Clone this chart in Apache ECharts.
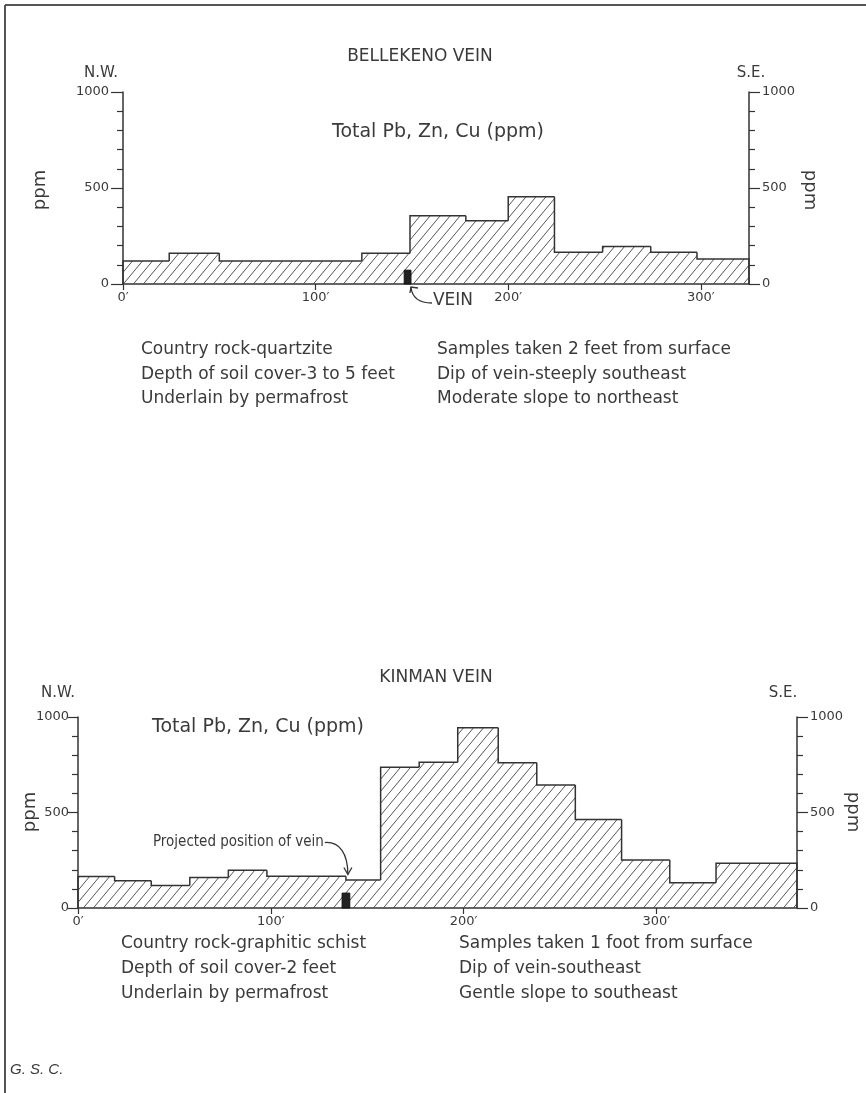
<!DOCTYPE html>
<html>
<head>
<meta charset="utf-8">
<script src="https://cdn.jsdelivr.net/npm/echarts@6/dist/echarts.min.js"></script>
<style>html,body{margin:0;padding:0;background:#fff;}#c{width:866px;height:1093px;}</style>
</head>
<body>
<div id="c"></div>
<script>
// ---- data ----
const topBounds = [0, 24, 50, 124, 149, 178, 200, 224, 249, 274, 298, 325];   // feet
const topValues = [120, 160, 120, 160, 355, 330, 455, 165, 195, 165, 130];    // ppm
const topVein = [146, 149.5, 72];                                             // x0, x1, height
const botBounds = [0, 19, 38, 58, 78, 98, 139, 157, 177, 197, 218, 238, 258, 282, 307, 331, 373];
const botValues = [165, 143, 118, 160, 198, 166, 147, 737, 763, 944, 761, 644, 464, 251, 132, 234];
const botVein = [137, 141, 78];
const xTickValues = [0, 100, 200, 300];
const topNotesLeft = ['Country rock-quartzite', 'Depth of soil cover-3 to 5 feet', 'Underlain by permafrost'];
const topNotesRight = ['Samples taken 2 feet from surface', 'Dip of vein-steeply southeast', 'Moderate slope to northeast'];
const botNotesLeft = ['Country rock-graphitic schist', 'Depth of soil cover-2 feet', 'Underlain by permafrost'];
const botNotesRight = ['Samples taken 1 foot from surface', 'Dip of vein-southeast', 'Gentle slope to southeast'];

const INK = '#333';
const TXT = '#3a3a3a';
const FONT = 'DejaVu Sans';

// hatch pattern
const PW = 10, PH = 12;
const pc = document.createElement('canvas');
pc.width = PW; pc.height = PH;
const g = pc.getContext('2d');
g.strokeStyle = '#555'; g.lineWidth = 1;
g.beginPath();
g.moveTo(0, PH); g.lineTo(PW, 0);
g.moveTo(-2, 2.4); g.lineTo(2, -2.4);
g.moveTo(PW - 2, PH + 2.4); g.lineTo(PW + 2, PH - 2.4);
g.stroke();
const pattern = {image: pc, repeat: 'repeat'};

function stepSeries(idx, bounds, values) {
  const data = values.map((v, i) => [bounds[i], bounds[i + 1], v, i > 0 ? values[i - 1] : 0, i === values.length - 1 ? 1 : 0]);
  return {
    type: 'custom', xAxisIndex: idx, yAxisIndex: idx * 2, data, silent: true, animation: false, clip: false,
    encode: {x: [0, 1], y: 2},
    renderItem(params, api) {
      const x0 = api.value(0), x1 = api.value(1), v = api.value(2), pv = api.value(3), last = api.value(4);
      const p0 = api.coord([x0, v]);
      const p1 = api.coord([x1, 0]);
      const pp = api.coord([x0, pv]);
      const pts = [pp, p0, [p1[0], p0[1]]];
      if (last) pts.push(p1);
      return {type: 'group', children: [
        {type: 'rect', shape: {x: p0[0], y: p0[1], width: p1[0] - p0[0], height: p1[1] - p0[1]}, style: {fill: pattern}},
        {type: 'polyline', shape: {points: pts}, style: {stroke: INK, lineWidth: 1.5, fill: null}}
      ]};
    }
  };
}
function veinSeries(idx, vein) {
  return {
    type: 'custom', xAxisIndex: idx, yAxisIndex: idx * 2, data: [vein], silent: true, animation: false, z: 5,
    encode: {x: [0, 1], y: 2},
    renderItem(params, api) {
      const a = api.coord([api.value(0), api.value(2)]);
      const b = api.coord([api.value(1), 0]);
      return {type: 'rect', shape: {x: a[0], y: a[1], width: b[0] - a[0], height: b[1] - a[1]},
        style: {fill: '#222', stroke: '#111', lineWidth: 1}};
    }
  };
}
function xAxis(idx, max) {
  return {
    type: 'value', gridIndex: idx, min: 0, max: max, position: 'bottom',
    axisLine: {show: true, lineStyle: {color: INK, width: 1.5}},
    axisTick: {show: true, length: 6, customValues: xTickValues, lineStyle: {color: INK, width: 1.2}},
    axisLabel: {show: true, customValues: xTickValues, formatter: v => v + '\u2032', color: TXT, fontFamily: FONT, fontSize: 13, margin: 7},
    splitLine: {show: false}
  };
}
function yAxis(idx, pos, tickLen, margin) {
  return {
    type: 'value', gridIndex: idx, min: 0, max: 1000, interval: 500, position: pos,
    axisLine: {show: true, lineStyle: {color: INK, width: 1.5}},
    axisTick: {show: true, length: tickLen, lineStyle: {color: INK, width: 1.2}},
    minorTick: {show: true, splitNumber: 5, length: 6, lineStyle: {color: INK, width: 1.2}},
    axisLabel: {show: true, formatter: v => String(v), color: TXT, fontFamily: FONT, fontSize: 13, margin: margin},
    splitLine: {show: false}, minorSplitLine: {show: false}
  };
}
function txt(x, y, text, opts) {
  opts = opts || {};
  return {type: 'text', x: x, y: y, rotation: opts.rot || 0, silent: true,
    style: {text: text, font: (opts.style || '') + ' ' + (opts.size || 17) + 'px "' + (opts.family || FONT) + '"',
      fill: TXT, align: opts.align || 'left', verticalAlign: 'middle'}};
}

const chart = echarts.init(document.getElementById('c'), null, {renderer: 'canvas'});
const option = {
  backgroundColor: '#fff',
  animation: false,
  grid: [
    {left: 123, right: 117, top: 92, height: 192},
    {left: 78, right: 69, top: 717, height: 191}
  ],
  xAxis: [xAxis(0, 325), xAxis(1, 373)],
  yAxis: [yAxis(0, 'left', 12, 14), yAxis(0, 'right', 11, 13), yAxis(1, 'left', 10, 9), yAxis(1, 'right', 11, 13)],
  series: [stepSeries(0, topBounds, topValues), veinSeries(0, topVein),
           stepSeries(1, botBounds, botValues), veinSeries(1, botVein)]
};
chart.setOption(option);

// annotations positioned from the data
const tTip = chart.convertToPixel({gridIndex: 0}, [topVein[1], 0]);
const bTip = chart.convertToPixel({gridIndex: 1}, [(botVein[0] + botVein[1]) / 2 + 1, botValues[5] + 4]);
const els = [];
// frame
els.push({type: 'line', shape: {x1: 5, y1: 5, x2: 866, y2: 5}, style: {stroke: '#555', lineWidth: 2}, silent: true});
els.push({type: 'line', shape: {x1: 5, y1: 5, x2: 5, y2: 1093}, style: {stroke: '#555', lineWidth: 2}, silent: true});
// top chart texts
els.push(txt(420, 57, 'BELLEKENO VEIN', {align: 'center'}));
els.push(txt(101, 73, 'N.W.', {align: 'center', size: 15}));
els.push(txt(751, 73, 'S.E.', {align: 'center', size: 15}));
els.push(txt(438, 132, 'Total Pb, Zn, Cu (ppm)', {align: 'center', size: 19}));
els.push(txt(40, 190, 'ppm', {align: 'center', rot: Math.PI / 2, size: 18}));
els.push(txt(810, 190, 'ppm', {align: 'center', rot: -Math.PI / 2, size: 18}));
topNotesLeft.forEach((t, i) => els.push(txt(141, 350 + i * 24.5, t, {size: 17})));
topNotesRight.forEach((t, i) => els.push(txt(437, 350 + i * 24.5, t, {size: 17})));
// vein arrow (top)
els.push({type: 'bezierCurve', silent: true,
  shape: {x1: tTip[0], y1: tTip[1] + 3, cpx1: tTip[0] + 1, cpy1: tTip[1] + 13, cpx2: tTip[0] + 8, cpy2: tTip[1] + 19, x2: tTip[0] + 21, y2: tTip[1] + 19},
  style: {stroke: INK, lineWidth: 1.3, fill: null}});
els.push({type: 'polyline', silent: true,
  shape: {points: [[tTip[0] + 7, tTip[1] + 4], [tTip[0], tTip[1] + 3], [tTip[0] - 1, tTip[1] + 9]]},
  style: {stroke: INK, lineWidth: 1.3, fill: null}});
els.push(txt(tTip[0] + 22, tTip[1] + 17, 'VEIN', {size: 17}));
// bottom chart texts
els.push(txt(436, 678, 'KINMAN VEIN', {align: 'center'}));
els.push(txt(58, 693, 'N.W.', {align: 'center', size: 15}));
els.push(txt(783, 693, 'S.E.', {align: 'center', size: 15}));
els.push(txt(258, 727, 'Total Pb, Zn, Cu (ppm)', {align: 'center', size: 19}));
els.push(txt(30, 812, 'ppm', {align: 'center', rot: Math.PI / 2, size: 18}));
els.push(txt(853, 812, 'ppm', {align: 'center', rot: -Math.PI / 2, size: 18}));
botNotesLeft.forEach((t, i) => els.push(txt(121, 944 + i * 25, t, {size: 17})));
botNotesRight.forEach((t, i) => els.push(txt(459, 944 + i * 25, t, {size: 17})));
// projected vein arrow (bottom)
els.push(txt(bTip[0] - 24, bTip[1] - 33, 'Projected position of vein', {align: 'right', size: 15, family: 'DejaVu Sans Condensed'}));
els.push({type: 'bezierCurve', silent: true,
  shape: {x1: bTip[0] - 23, y1: bTip[1] - 33, cpx1: bTip[0] - 8, cpy1: bTip[1] - 34, cpx2: bTip[0], cpy2: bTip[1] - 22, x2: bTip[0], y2: bTip[1] - 1},
  style: {stroke: INK, lineWidth: 1.3, fill: null}});
els.push({type: 'polyline', silent: true,
  shape: {points: [[bTip[0] - 4, bTip[1] - 8], [bTip[0], bTip[1] - 1], [bTip[0] + 4, bTip[1] - 8]]},
  style: {stroke: INK, lineWidth: 1.3, fill: null}});
els.push(txt(10, 1070, 'G. S. C.', {style: 'italic', size: 15, family: 'Liberation Sans'}));
chart.setOption({graphic: {elements: els}});
</script>
</body>
</html>
